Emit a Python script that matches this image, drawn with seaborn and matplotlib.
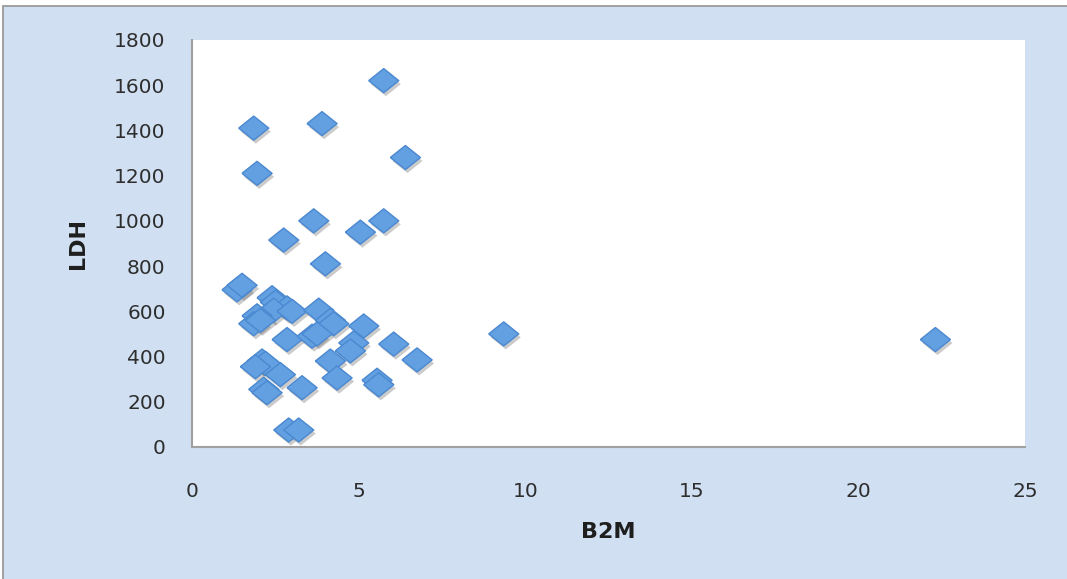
import matplotlib
matplotlib.use("Agg")
import matplotlib.pyplot as plt
import matplotlib.patheffects as pe
from matplotlib.patches import Rectangle
import pandas as pd
import seaborn as sns

# values
b2m = [5.75, 3.9, 1.85, 6.4, 1.95, 3.65, 5.75, 5.05, 2.75, 4.0,
       1.35, 1.5,
       2.4, 2.5, 2.85, 2.45, 3.0, 1.95, 1.85, 2.05,
       3.8, 4.15, 4.25, 5.15,
       2.85, 3.6, 3.75,
       4.85, 4.75, 6.05, 6.75,
       2.1, 2.2, 1.9, 2.65, 2.15, 2.25, 3.3,
       4.15, 4.35, 5.55, 5.6,
       2.9, 3.2,
       9.35, 22.3]
ldh = [1620, 1430, 1410, 1280, 1210, 1000, 1000, 950, 915, 810,
       695, 715,
       660, 640, 615, 605, 600, 580, 545, 560,
       605, 560, 545, 535,
       475, 490, 500,
       460, 425, 455, 385,
       380, 370, 355, 320, 255, 240, 262,
       380, 305, 295, 275,
       75, 75,
       500, 475]
x_ticks = [0, 5, 10, 15, 20, 25]
y_ticks = [0, 200, 400, 600, 800, 1000, 1200, 1400, 1600, 1800]

df = pd.DataFrame({"B2M": b2m, "LDH": ldh})

sns.set_theme(style="white")
plt.rcParams["font.family"] = ["DejaVu Sans"]

bg = "#d0e0f2"
fig = plt.figure(figsize=(10.67, 5.79), dpi=100, facecolor="white")
# outer chart frame
frame = Rectangle((3 / 1067, -0.1), 1.2, 1.1 - 6 / 579,
                  transform=fig.transFigure, facecolor=bg,
                  edgecolor="#9a9a9a", linewidth=1.3, zorder=-10)
fig.patches.append(frame)
ax = fig.add_axes([0.180, 0.228, 0.781, 0.703])
ax.set_zorder(1)
ax.set_facecolor("white")

diamond = [(-1, 0), (0, 0.8), (1, 0), (0, -0.8), (-1, 0)]
sns.scatterplot(data=df, x="B2M", y="LDH", ax=ax, marker=diamond, s=470,
                color="#63a0e2", edgecolor="#4a88d0", linewidth=1.0,
                zorder=3, clip_on=False, legend=False)
for coll in ax.collections:
    coll.set_path_effects([pe.SimplePatchShadow(offset=(1.5, -2.5), shadow_rgbFace="#555555", alpha=0.3),
                           pe.Normal()])

ax.set_xlim(0, 25)
ax.set_ylim(0, 1800)
ax.set_xticks(x_ticks)
ax.set_yticks(y_ticks)
ax.tick_params(axis="both", length=0, labelsize=14.5, colors="#2e2e2e")
ax.tick_params(axis="y", pad=19)
ax.tick_params(axis="x", pad=25)

for side in ["top", "right"]:
    ax.spines[side].set_visible(False)
for side in ["left", "bottom"]:
    ax.spines[side].set_color("#a0a0a0")
    ax.spines[side].set_linewidth(1.5)

ax.set_xlabel("B2M", fontsize=16, fontweight="bold", color="#1e1e1e", labelpad=15)
ax.set_ylabel("LDH", fontsize=16, fontweight="bold", color="#1e1e1e", labelpad=19)

fig.savefig("out.png", dpi=100, facecolor=fig.get_facecolor())
